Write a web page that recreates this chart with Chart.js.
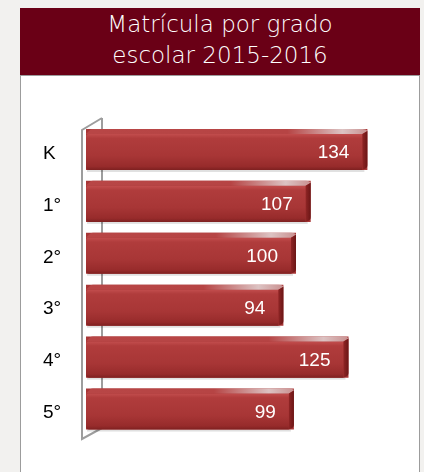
<!DOCTYPE html>
<html>
<head>
<meta charset="utf-8">
<script src="https://cdn.jsdelivr.net/npm/chart.js@4"></script>
<style>
  html, body { margin: 0; padding: 0; }
  body { width: 424px; height: 472px; background: #f2f1ef; position: relative; overflow: hidden; }
  #panel { position: absolute; left: 20px; top: 8px; width: 400px; height: 480px; box-sizing: border-box;
           background: #ffffff; border: 1px solid #9c9c9c; }
  #header { position: absolute; left: 20px; top: 8px; width: 400px; height: 68px; background: #6a0016;
            color: #ffffff; text-align: center; font-family: "DejaVu Sans", sans-serif; font-weight: 300;
            font-size: 23px; line-height: 31px; padding-top: 1px; box-sizing: border-box; border-bottom: 1px solid #9c9c9c; }
  #c { position: absolute; left: 21px; top: 77px; }
</style>
</head>
<body>
<div id="panel"></div>
<div id="header">Matrícula por grado<br>escolar 2015-2016</div>
<canvas id="c" width="397" height="395"></canvas>
<script>
const categories = ["K", "1°", "2°", "3°", "4°", "5°"];
const enrollment = [134, 107, 100, 94, 125, 99];
const axisMax = 150;

const wallPlugin = {
  id: 'wall',
  beforeDatasetsDraw(chart) {
    const { ctx, chartArea: a } = chart;
    const fx = a.left - 4, bx = a.left + 16;
    ctx.save();
    ctx.strokeStyle = '#9d9d9d';
    ctx.lineWidth = 2;
    ctx.beginPath();
    ctx.moveTo(bx, a.top - 5.5);
    ctx.lineTo(bx, a.bottom - 7);
    ctx.moveTo(bx, a.top - 5.5);
    ctx.lineTo(fx, a.top + 6.5);
    ctx.lineTo(fx, a.bottom + 4);
    ctx.lineTo(bx, a.bottom - 7);
    ctx.stroke();
    ctx.restore();
  }
};

const bar3dPlugin = {
  id: 'bar3d',
  afterDatasetsDraw(chart) {
    const { ctx } = chart;
    const meta = chart.getDatasetMeta(0);
    ctx.save();
    meta.data.forEach((bar, i) => {
      const p = bar.getProps(['x', 'y', 'base', 'height'], true);
      const top = p.y - p.height / 2, bottom = p.y + p.height / 2;
      const left = p.base, right = p.x;
      const d = 5;
      // soft shadow
      ctx.fillStyle = 'rgba(0,0,0,0.12)';
      ctx.fillRect(left + 1, bottom, right - left - 4, 2);
      // front face
      let g = ctx.createLinearGradient(0, top + d, 0, bottom);
      g.addColorStop(0, '#c24d4d');
      g.addColorStop(0.12, '#b03c3c');
      g.addColorStop(0.6, '#a83636');
      g.addColorStop(0.9, '#972b2b');
      g.addColorStop(1, '#7e2020');
      ctx.fillStyle = g;
      ctx.beginPath();
      ctx.moveTo(left + 3, top + d);
      ctx.lineTo(right - d, top + d);
      ctx.lineTo(right - d, bottom);
      ctx.lineTo(left + 3, bottom);
      ctx.quadraticCurveTo(left, bottom, left, bottom - 3);
      ctx.lineTo(left, top + d + 3);
      ctx.quadraticCurveTo(left, top + d, left + 3, top + d);
      ctx.fill();
      // top face
      g = ctx.createLinearGradient(left, 0, right, 0);
      g.addColorStop(0, '#b84646');
      g.addColorStop(Math.max(0, 1 - 80 / (right - left)), '#b64444');
      g.addColorStop(Math.max(0, 1 - 25 / (right - left)), '#dcc3c3');
      g.addColorStop(1, '#c99090');
      ctx.fillStyle = g;
      ctx.beginPath();
      ctx.moveTo(left, top + d);
      ctx.lineTo(left + 4, top + 1);
      ctx.quadraticCurveTo(left + 5, top, left + 7, top);
      ctx.lineTo(right - 5, top);
      ctx.quadraticCurveTo(right - 1, top, right, top + 2);
      ctx.lineTo(right - d, top + d);
      ctx.closePath();
      ctx.fill();
      // right side face
      g = ctx.createLinearGradient(right - d, 0, right, 0);
      g.addColorStop(0, '#8f2525');
      g.addColorStop(1, '#6b1616');
      ctx.fillStyle = g;
      ctx.beginPath();
      ctx.moveTo(right - d, top + d);
      ctx.lineTo(right, top + 2);
      ctx.lineTo(right, bottom - 5);
      ctx.quadraticCurveTo(right, bottom - 2, right - 3, bottom - 1);
      ctx.lineTo(right - d, bottom);
      ctx.closePath();
      ctx.fill();
      // value label
      ctx.fillStyle = '#ffffff';
      ctx.font = '19px "Liberation Sans", Arial, sans-serif';
      ctx.textAlign = 'right';
      ctx.textBaseline = 'middle';
      ctx.fillText(String(enrollment[i]), right - 18, (top + d + bottom) / 2 + 1);
    });
    ctx.restore();
  }
};

new Chart(document.getElementById('c'), {
  type: 'bar',
  data: {
    labels: categories,
    datasets: [{
      data: enrollment,
      backgroundColor: '#a83636',
      borderWidth: 0,
      categoryPercentage: 1,
      barPercentage: 0.79
    }]
  },
  options: {
    indexAxis: 'y',
    responsive: false,
    animation: false,
    layout: { padding: { left: 22, right: 17, top: 46.5, bottom: 37 } },
    plugins: { legend: { display: false }, tooltip: { enabled: false } },
    scales: {
      x: { display: false, min: 0, max: axisMax },
      y: {
        grid: { display: false },
        border: { display: false },
        afterFit(s) { s.width = 43; },
        ticks: {
          color: '#000000',
          crossAlign: 'far',
          labelOffset: 4,
          font: { family: '"Liberation Sans", Arial, sans-serif', size: 19 }
        }
      }
    }
  },
  plugins: [wallPlugin, bar3dPlugin]
});
</script>
</body>
</html>
